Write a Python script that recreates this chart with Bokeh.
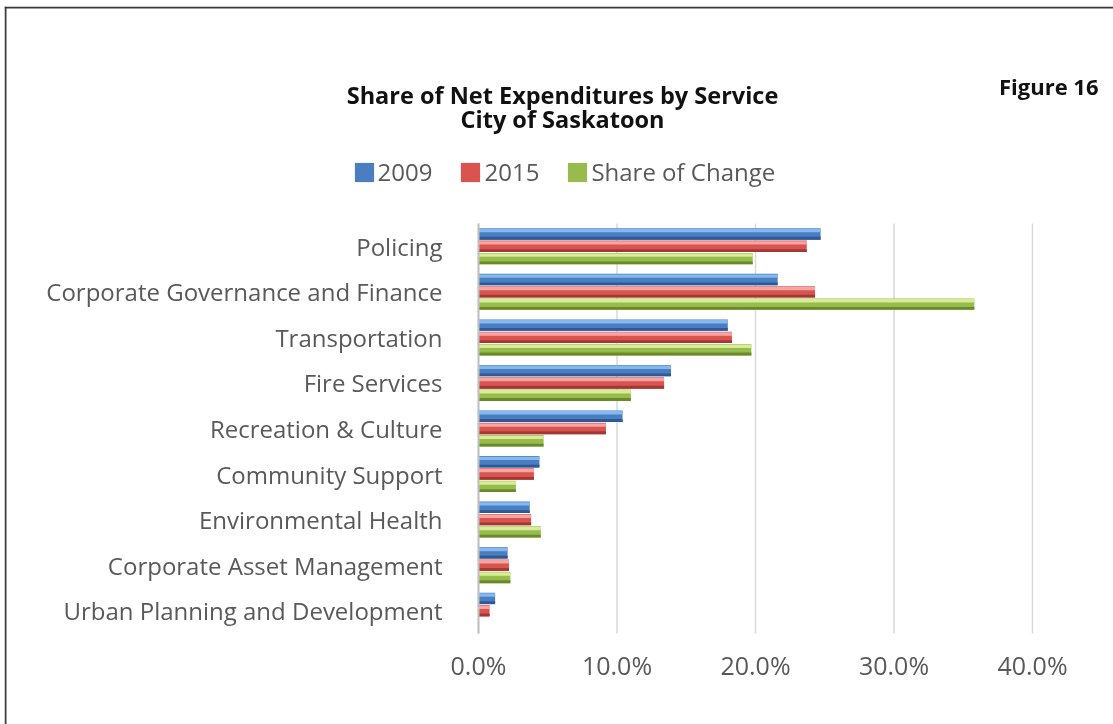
from bokeh.plotting import figure
from bokeh.models import Range1d, FixedTicker, NumeralTickFormatter, Label, Legend, LegendItem, ColumnDataSource, Span
from bokeh.transform import dodge
from bokeh.embed import file_html
from bokeh.resources import INLINE

# ---------------- data ----------------
categories = ["Policing", "Corporate Governance and Finance", "Transportation",
              "Fire Services", "Recreation & Culture", "Community Support",
              "Environmental Health", "Corporate Asset Management",
              "Urban Planning and Development"]
share_2009 = [0.247, 0.216, 0.180, 0.139, 0.104, 0.044, 0.037, 0.021, 0.012]
share_2015 = [0.237, 0.243, 0.183, 0.134, 0.092, 0.040, 0.038, 0.022, 0.008]
share_change = [0.198, 0.358, 0.197, 0.110, 0.047, 0.027, 0.045, 0.023, 0.0]
series_names = ["2009", "2015", "Share of Change"]
x_ticks = [0.0, 0.1, 0.2, 0.3, 0.4]
title_lines = ["Share of Net Expenditures by Service", "City of Saskatoon"]
figure_label = "Figure 16"

FONT = "Open Sans"
LABEL_COLOR = "#595959"

# ---------------- layout (page pixels) ----------------
ORIGIN_X, ORIGIN_Y = 4, 6          # canvas top-left on the page
FW, FH = 1124, 734                 # frame size; right/bottom edges fall outside the window
AX_L, AX_R, AX_T, AX_B = 478, 1032, 223, 633   # bar area on the page
n = len(categories)
PX_X = (AX_R - AX_L) / 0.40
PX_Y = (AX_B - AX_T) / n

def dx(px):
    return (px - AX_L) / PX_X

def dy(py):
    return (AX_B - py) / PX_Y

y_pos = [n - 0.5 - i for i in range(n)]
src = ColumnDataSource(dict(y=y_pos, cat=categories, s2009=share_2009, s2015=share_2015, chg=share_change))

p = figure(x_range=Range1d(dx(ORIGIN_X), dx(ORIGIN_X + FW)),
           y_range=Range1d(dy(ORIGIN_Y + FH), dy(ORIGIN_Y)),
           frame_width=FW, frame_height=FH,
           min_border_left=0, min_border_top=0, min_border_right=0, min_border_bottom=0,
           output_backend="svg", toolbar_location=None)
p.styles = {"position": "fixed", "left": f"{ORIGIN_X}px", "top": f"{ORIGIN_Y}px", "margin": "0px"}
p.outline_line_color = None
p.background_fill_color = "white"
p.border_fill_color = "white"
p.xgrid.grid_line_color = None
p.ygrid.grid_line_color = None

# chart-area border (left and top edges)
p.add_layout(Span(location=dx(ORIGIN_X + 1), dimension="height", line_color="#3a3a3a", line_width=2))
p.add_layout(Span(location=dy(ORIGIN_Y + 1), dimension="width", line_color="#3a3a3a", line_width=2))

# vertical gridlines spanning the bar area only
p.segment(x0=x_ticks, x1=x_ticks, y0=[0] * len(x_ticks), y1=[n] * len(x_ticks),
          line_color="#D9D9D9", line_width=1.5)

series = [
    ("s2009", 0.27, ("#4A7EC0", "#86B8F0", "#2D5A94")),
    ("s2015", 0.0, ("#D9534F", "#F5A6A4", "#A23835")),
    ("chg", -0.27, ("#98BB4E", "#D6EC97", "#6A8A2A")),
]
BAR_H = 0.25
base_renderers = []
for key, off, (base, light, dark) in series:
    r = p.hbar(y=dodge("y", off), left=0, right=key, height=BAR_H,
               fill_color=base, line_color=None, source=src)
    p.hbar(y=dodge("y", off + 0.075), left=0, right=key, height=0.075,
           fill_color=light, line_color=None, source=src)
    p.hbar(y=dodge("y", off - 0.094), left=0, right=key, height=0.062,
           fill_color=dark, line_color=None, source=src)
    base_renderers.append(r)

# axes (drawn at the data origin, inside the canvas)
p.xaxis.fixed_location = 0
p.xaxis.bounds = (x_ticks[0], x_ticks[-1])
p.xaxis.ticker = FixedTicker(ticks=x_ticks)
p.xaxis.formatter = NumeralTickFormatter(format="0.0%")
p.xaxis.axis_line_color = None
p.xaxis.major_tick_line_color = None
p.xaxis.minor_tick_line_color = None
p.xaxis.major_label_text_font = FONT
p.xaxis.major_label_text_font_size = "25px"
p.xaxis.major_label_text_color = LABEL_COLOR
p.xaxis.major_label_standoff = 8

p.yaxis.fixed_location = 0
p.yaxis.bounds = (0, n)
p.yaxis.ticker = FixedTicker(ticks=y_pos)
p.yaxis.major_label_overrides = {y: c for y, c in zip(y_pos, categories)}
p.yaxis.axis_line_color = "#BFBFBF"
p.yaxis.axis_line_width = 2
p.yaxis.major_tick_line_color = None
p.yaxis.minor_tick_line_color = None
p.yaxis.major_label_text_font = FONT
p.yaxis.major_label_text_font_size = "24px"
p.yaxis.major_label_text_color = LABEL_COLOR
p.yaxis.major_label_standoff = 30

# legend
legend = Legend(items=[LegendItem(label=nm, renderers=[r]) for nm, r in zip(series_names, base_renderers)],
                location=(351.6 - ORIGIN_X, (ORIGIN_Y + FH) - 172 - 16), orientation="horizontal",
                glyph_width=24, glyph_height=24, label_standoff=2, spacing=26,
                padding=0, margin=0, border_line_color=None, background_fill_alpha=0,
                label_text_font=FONT, label_text_font_size="24px", label_text_color=LABEL_COLOR)
p.add_layout(legend)

# titles
for text, py in zip(title_lines, [94, 118]):
    p.add_layout(Label(x=dx(562), y=dy(py), text=text, text_align="center", text_baseline="middle",
                       text_font=FONT, text_font_style="bold", text_font_size="23.5px", text_color="#111111"))
p.add_layout(Label(x=dx(1098), y=dy(85), text=figure_label, text_align="right", text_baseline="middle",
                   text_font=FONT, text_font_style="bold", text_font_size="22px", text_color="#111111"))

open("out.html", "w").write(file_html(p, INLINE))
